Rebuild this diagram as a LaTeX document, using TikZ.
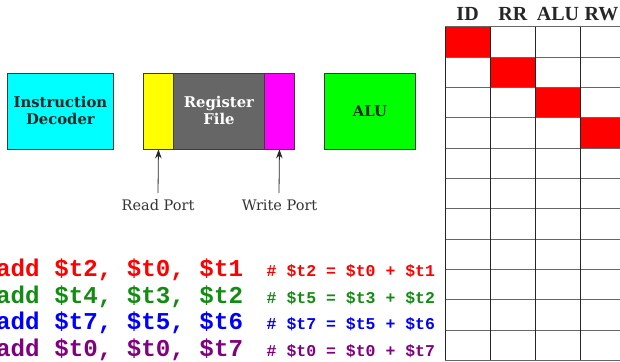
\documentclass[tikz,border=0pt]{standalone}
\usepackage{fontspec}
\setmainfont{DejaVu Serif}
\newfontfamily\hdrfont{Liberation Serif}
\newfontfamily\codefont{Liberation Mono}
\usetikzlibrary{arrows.meta}
\definecolor{cgreen}{RGB}{0,255,0}
\definecolor{ccyan}{RGB}{0,255,255}
\definecolor{cmag}{RGB}{255,0,255}
\definecolor{cyel}{RGB}{255,255,0}
\definecolor{cred}{RGB}{255,0,0}
\definecolor{rfgray}{RGB}{102,102,102}
\definecolor{edgec}{RGB}{60,60,60}
\definecolor{codegreen}{RGB}{20,140,20}
\definecolor{codeblue}{RGB}{0,0,255}
\definecolor{codepurple}{RGB}{128,0,128}
\tikzset{
  unitbox/.style={draw=edgec, line width=0.9pt, minimum height=76pt, inner sep=0pt,
    font=\fontsize{14.8}{17}\selectfont\bfseries, align=center, text=black!85},
  portlbl/.style={font=\fontsize{14.5}{17}\selectfont, text=black!80, inner sep=0pt},
  hdr/.style={font=\hdrfont\fontsize{20}{22}\selectfont\bfseries, text=black!85, anchor=base, inner sep=0pt},
  codeln/.style={font=\codefont\fontsize{24.2}{26}\selectfont\bfseries, anchor=base west, inner sep=0pt},
  cmtln/.style={font=\codefont\fontsize{16.5}{18}\selectfont\bfseries, anchor=base west, inner sep=0pt},
  arr/.style={-{Stealth[length=9pt,width=6.5pt]}, line width=0.8pt, black!85},
  hline/.style={draw=black!60, line width=1pt},
  vline/.style={draw=black!85, line width=0.9pt}
}
\begin{document}
\begin{tikzpicture}[x=1pt,y=-1pt]
\useasboundingbox (0,0) rectangle (620,361);
\fill[white] (0,0) rectangle (620,361);
\begin{scope}
\clip (0,0) rectangle (620,361);
% boxes
\node[unitbox, fill=ccyan, minimum width=106pt, anchor=north west] (id) at (7,72.5) {Instruction\\Decoder};
\node[unitbox, fill=cyel, minimum width=30pt, anchor=north west] (rp) at (143,72.5) {};
\node[unitbox, fill=rfgray, minimum width=91pt, anchor=north west, text=white] (rf) at (173,72.5) {Register\\File};
\node[unitbox, fill=cmag, minimum width=30pt, anchor=north west] (wp) at (264,72.5) {};
\node[unitbox, fill=cgreen, minimum width=91pt, anchor=north west] (alu) at (324,72.5) {ALU};
% port labels
\node[portlbl] (rpl) at (158,205) {Read Port};
\node[portlbl] (wpl) at (279.5,205) {Write Port};
\coordinate (rpa) at (158,193);
\coordinate (wpa) at (279,193);
\draw[arr] (rpa) -- (rp.south);
\draw[arr] (wpa) -- (wp.south);
% table
\foreach \i in {0,1,2,3}{
  \fill[cred] (445+45.3*\i, 27+30.3*\i) rectangle (445+45.3*\i+45.3, 27+30.3*\i+30.3);
}
\foreach \j in {0,...,11}{
  \draw[hline] (445,27+30.3*\j) -- (630,27+30.3*\j);
}
\foreach \i in {0,...,4}{
  \draw[vline] (445+45.3*\i,27) -- (445+45.3*\i,360.3);
}
\node[hdr] (hid) at (467.6,21) {ID};
\node[hdr] (hrr) at (512.9,21) {RR};
\node[hdr] (halu) at (558,21) {ALU};
\node[hdr] (hrw) at (601.5,21) {RW};
% code
\node[codeln, text=cred] (c1) at (-4,276) {add \$t2, \$t0, \$t1};
\node[codeln, text=codegreen] (c2) at (-4,303) {add \$t4, \$t3, \$t2};
\node[codeln, text=codeblue] (c3) at (-4,329.5) {add \$t7, \$t5, \$t6};
\node[codeln, text=codepurple] (c4) at (-4,356) {add \$t0, \$t0, \$t7};
\node[cmtln, text=cred] (m1) at (266.5,276) {\# \$t2 = \$t0 + \$t1};
\node[cmtln, text=codegreen] (m2) at (266.5,303) {\# \$t5 = \$t3 + \$t2};
\node[cmtln, text=codeblue] (m3) at (266.5,329.5) {\# \$t7 = \$t5 + \$t6};
\node[cmtln, text=codepurple] (m4) at (266.5,356) {\# \$t0 = \$t0 + \$t7};
\end{scope}
\end{tikzpicture}
\end{document}
